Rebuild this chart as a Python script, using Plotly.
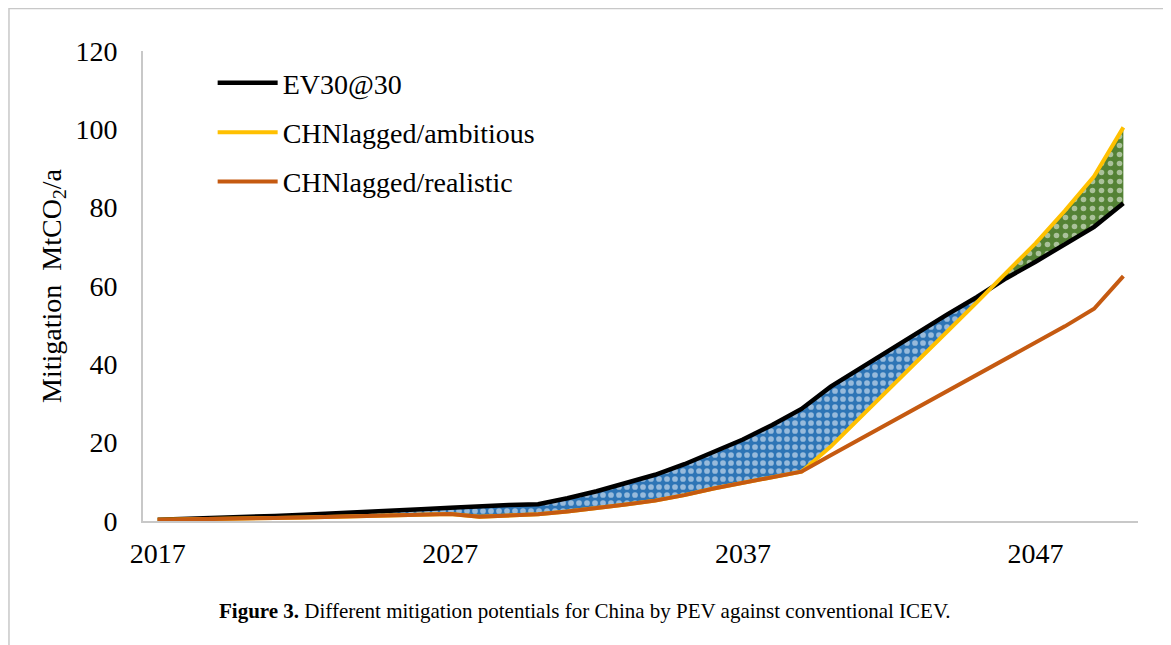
import numpy as np
import plotly.graph_objects as go

years = list(range(2017, 2051))
ev30 = [0.3, 0.5, 0.75, 1.0, 1.3, 1.6, 1.9, 2.2, 2.6, 3.0, 3.4, 3.8, 4.1, 4.3,
        5.8, 7.6, 9.6, 11.8, 14.5, 17.5, 20.8, 24.5, 28.6, 34.3, 39.0, 43.6,
        48.2, 52.8, 57.2, 62.0, 66.2, 70.5, 75.1, 81.1]
ambitious = [0.3, 0.35, 0.45, 0.6, 0.75, 0.9, 1.05, 1.2, 1.35, 1.5, 1.8, 1.1,
             1.5, 1.7, 2.4, 3.2, 4.2, 5.2, 6.6, 8.3, 9.8, 11.2, 12.6, 19.0,
             26.3, 33.6, 41.1, 48.5, 55.9, 63.3, 70.9, 79.2, 88.0, 100.5]
realistic = [0.3, 0.35, 0.45, 0.6, 0.75, 0.9, 1.05, 1.2, 1.35, 1.5, 1.8, 1.1,
             1.5, 1.7, 2.4, 3.2, 4.2, 5.2, 6.6, 8.3, 9.8, 11.2, 12.6, 16.8,
             20.9, 25.0, 29.1, 33.2, 37.3, 41.4, 45.5, 49.7, 54.2, 62.5]
xticks = [2017, 2027, 2037, 2047]

names = ["EV30@30", "CHNlagged/ambitious", "CHNlagged/realistic"]
colors = ["#000000", "#FFC000", "#C55A11"]

FONT = "Liberation Serif, Times New Roman, serif"
FS = 28

x = np.array(years, dtype=float)
b = np.array(ev30)
a = np.array(ambitious)
d = b - a
# crossing where ambitious overtakes EV30@30
i = int(np.where((d[:-1] > 0) & (d[1:] <= 0))[0][0])
t = d[i] / (d[i] - d[i + 1])
xc = x[i] + t * (x[i + 1] - x[i])
yc = b[i] + t * (b[i + 1] - b[i])

blue_x = list(x[:i + 1]) + [xc] + list(x[:i + 1][::-1])
blue_y = list(b[:i + 1]) + [yc] + list(a[:i + 1][::-1])
green_x = [xc] + list(x[i + 1:]) + list(x[i + 1:][::-1]) + [xc]
green_y = [yc] + list(a[i + 1:]) + list(b[i + 1:][::-1]) + [yc]

fig = go.Figure()
fig.add_trace(go.Scatter(
    x=blue_x, y=blue_y, mode="none", fill="toself", fillcolor="#2E75B6",
    fillpattern=dict(shape=".", fgcolor="white", bgcolor="#2E75B6", size=8, solidity=0.4),
    showlegend=False, hoverinfo="skip"))
fig.add_trace(go.Scatter(
    x=green_x, y=green_y, mode="none", fill="toself", fillcolor="#548235",
    fillpattern=dict(shape=".", fgcolor="white", bgcolor="#548235", size=9, solidity=0.3),
    showlegend=False, hoverinfo="skip"))

series = [ev30, ambitious, realistic]
for k, (nm, col, vals) in enumerate(zip(names, colors, series)):
    fig.add_trace(go.Scatter(
        x=years, y=vals, mode="lines", name=nm,
        line=dict(color=col, width=4.5 if k == 0 else 4),
        legendgroup=nm, legendrank=k + 1))

# page body has an 8px margin; figure is shrunk so the plot lands where the reference has it
fig.update_layout(
    width=1163, height=637,
    paper_bgcolor="white", plot_bgcolor="white",
    margin=dict(l=135, r=33, t=43, b=124),
    font=dict(family=FONT, size=FS, color="#000000"),
    showlegend=True,
    legend=dict(x=0.07, y=0.985, xanchor="left", yanchor="top",
                bgcolor="rgba(0,0,0,0)", font=dict(family=FONT, size=FS, color="#000000"),
                traceorder="grouped", tracegroupgap=10, itemwidth=60),
    xaxis=dict(range=[2016.5, 2050.5], tickvals=xticks, ticktext=[str(v) for v in xticks],
               showgrid=False, zeroline=False, showline=True, linecolor="#C8C8C8",
               linewidth=2, ticks="", ticklabelstandoff=6,
               tickfont=dict(family=FONT, size=FS)),
    yaxis=dict(range=[0, 120], dtick=20, showgrid=False, zeroline=False,
               showline=True, linecolor="#C8C8C8", linewidth=2, ticks="",
               ticklabelstandoff=18, tickfont=dict(family=FONT, size=FS),
               title=dict(text="Mitigation  MtCO<sub>2</sub>/a", standoff=6,
                          font=dict(family=FONT, size=FS))),
    shapes=[dict(type="path", xref="paper", yref="paper",
                 path="M -0.1347 -0.3 L -0.1347 1.0904 L 1.0261 1.0904 L 1.0261 -0.3",
                 line=dict(color="#C8C8C8", width=1.5))],
    annotations=[dict(xref="paper", yref="paper", x=0.444, y=-0.191,
                      xanchor="center", yanchor="middle", showarrow=False,
                      text="<b>Figure 3.</b> Different mitigation potentials for China by PEV against conventional ICEV.",
                      font=dict(family=FONT, size=21, color="#000000"))],
)

fig.write_html("out.html")
